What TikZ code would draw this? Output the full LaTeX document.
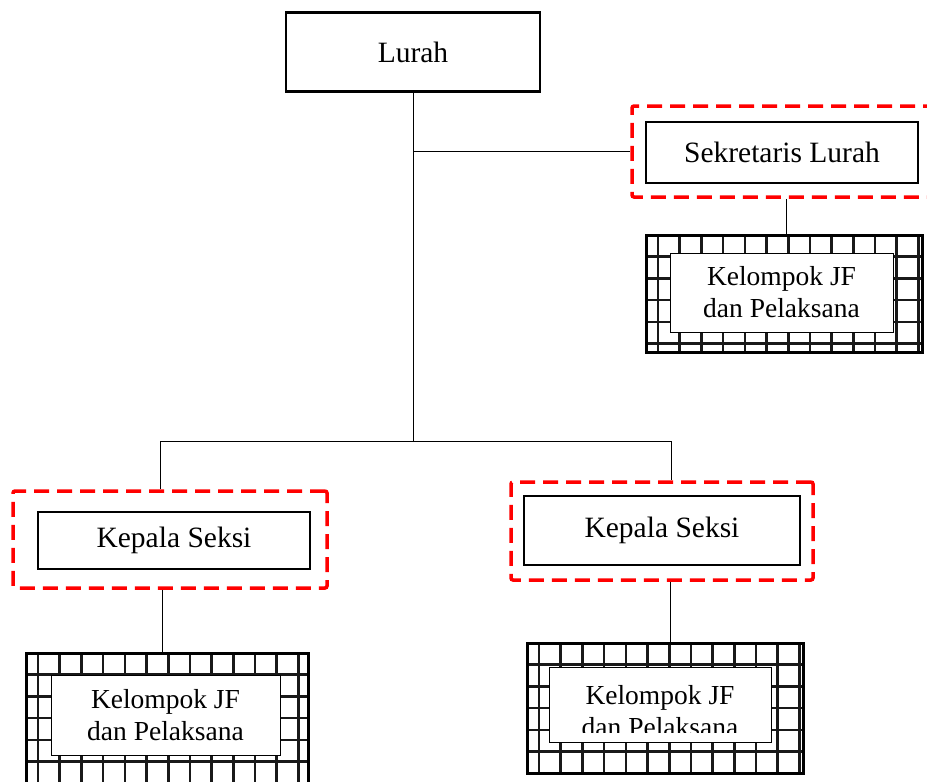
\documentclass[tikz,border=0pt]{standalone}
\usepackage{fontspec}
\setmainfont{Liberation Serif}
\usetikzlibrary{positioning}
\definecolor{frred}{HTML}{FF0000}
\newcommand{\bigtxt}{\fontsize{29.5}{33}\selectfont}
\newcommand{\smalltxt}{\fontsize{27.5}{32}\selectfont}

\begin{document}
\begin{tikzpicture}[x=1pt,y=-1pt,
  box/.style={draw,line width=2pt,font=\bigtxt},
  redframe/.style={draw=frred,line width=3.5pt,dash pattern=on 15pt off 8pt,rounded corners=2pt},
  jfbox/.style={draw,fill=white,line width=1pt,align=center,font=\smalltxt},
  gridedge/.style={draw,line width=3pt},
  gridline/.style={line width=2.6pt,black!90},
  conn/.style={line width=1pt}]
  \useasboundingbox (0,0) rectangle (927,782);
  % atasan
  \node[box,line width=2.5pt,minimum width=254pt,minimum height=79pt] (lurah) at (413,52) {Lurah};
  \node[redframe,minimum width=308pt,minimum height=91pt] (sekfr) at (786,151.5) {};
  \node[box,minimum width=272pt,minimum height=61pt] (sek) at (782,152) {Sekretaris Lurah};
  % seksi
  \node[redframe,minimum width=314pt,minimum height=97pt] (kasifr1) at (170,539.5) {};
  \node[box,minimum width=272pt,minimum height=57pt] (kasi1) at (174,540) {Kepala Seksi};
  \node[redframe,minimum width=302pt,minimum height=98pt] (kasifr2) at (662,531) {};
  \node[box,minimum width=276pt,minimum height=69pt] (kasi2) at (662,530) {Kepala Seksi};
  % kotak kisi JF
  \foreach \n/\xa/\ya/\xb/\yb in {0/646/235/922/352,1/26/653/308/800,2/527/643/803/773} {
    \begin{scope}
      \clip (\xa,\ya) rectangle (\xb,\yb);
      \foreach \k in {0,...,13} {
        \draw[gridline] ({\xa+12+21.7*\k},\ya) -- ({\xa+12+21.7*\k},\yb);
        \draw[gridline] (\xa,{\ya+21.7*\k}) -- (\xb,{\ya+21.7*\k});
      }
    \end{scope}
    \node[gridedge,minimum width=\xb pt-\xa pt,minimum height=\yb pt-\ya pt]
      (jf\n) at ({(\xa+\xb)/2},{(\ya+\yb)/2}) {};
  }
  \node[jfbox,minimum width=223pt,minimum height=79pt] (jt0) at (781.5,292.5) {Kelompok JF\\dan Pelaksana};
  \node[jfbox,minimum width=229pt,minimum height=80pt] (jt1) at (165.5,715) {Kelompok JF\\dan Pelaksana};
  \node[jfbox,minimum width=222pt,minimum height=75pt] (jt2) at (660,704.5) {};
  \begin{scope}
    \clip (jt2.north west) rectangle ([yshift=10pt]jt2.south east);
    \node[align=center,font=\smalltxt] (jt2txt) at ([yshift=-7pt]jt2.center) {Kelompok JF\\dan Pelaksana};
  \end{scope}
  % garis
  \coordinate (hub) at (413,441);
  \draw[conn] (lurah.south) -- (hub);
  \draw[conn] (lurah.south |- sekfr.west) -- (sekfr.west);
  \draw[conn] ([xshift=-10pt]kasifr1.north |- hub) -- ([xshift=9pt]kasifr2.north |- hub);
  \draw[conn] ([xshift=-10pt]kasifr1.north |- hub) -- ([xshift=-10pt]kasifr1.north);
  \draw[conn] ([xshift=9pt]kasifr2.north |- hub) -- ([xshift=9pt]kasifr2.north);
  \draw[conn] (sekfr.south) -- (sekfr.south |- jf0.north);
  \draw[conn] ([xshift=-8pt]kasifr1.south) -- ([xshift=-8pt]kasifr1.south |- jf1.north);
  \draw[conn] ([xshift=8pt]kasifr2.south) -- ([xshift=8pt]kasifr2.south |- jf2.north);
\end{tikzpicture}
\end{document}
